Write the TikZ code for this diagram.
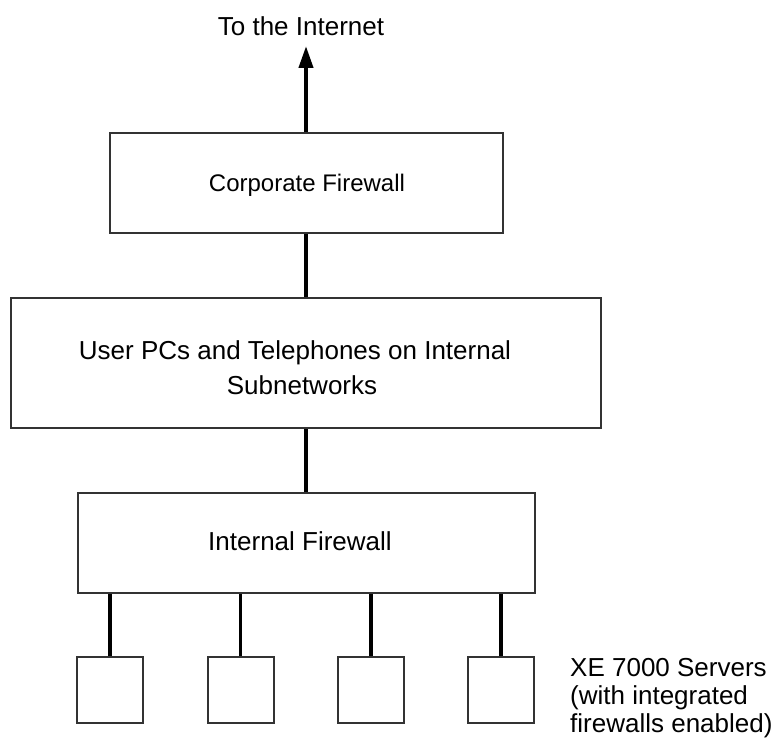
\documentclass[tikz,border=0pt]{standalone}
\usepackage{fontspec}
\setmainfont{Liberation Sans}
\usetikzlibrary{arrows.meta}
\begin{document}
\begin{tikzpicture}[x=1pt,y=-1pt,
  box/.style={draw=black!80,line width=2pt,inner sep=0pt},
  server/.style={draw=black!80,line width=2pt,inner sep=0pt,minimum width=66pt,minimum height=66pt},
  link/.style={line width=4pt},
  slink/.style={line width=3.3pt},
  txt/.style={inner sep=0pt,align=center,font=\fontsize{26}{36}\selectfont},
  lbl/.style={inner sep=0pt,font=\fontsize{26}{28}\selectfont}]
\useasboundingbox (0,0) rectangle (781,751);
\node[box,minimum width=393pt,minimum height=100pt] (corp) at (306,183) {};
\node[box,minimum width=590pt,minimum height=130pt] (user) at (306,363) {};
\node[box,minimum width=457pt,minimum height=100pt] (int) at (306,543) {};
\node[txt,font=\fontsize{24}{28}\selectfont,anchor=base] (corpt) at (307,192) {Corporate Firewall};
\node[txt,anchor=base] (usert1) at (295,359) {User PCs and Telephones on Internal};
\node[txt,anchor=base] (usert2) at (302,394) {Subnetworks};
\node[txt,anchor=base] (intt) at (300,550) {Internal Firewall};
\node[server] (s1) at (110,690) {};
\node[server] (s2) at (240.5,690) {};
\node[server] (s3) at (371,690) {};
\node[server] (s4) at (501,690) {};
\node[lbl,anchor=base] (net) at (301,36) {To the Internet};
\coordinate (tip) at (306,46);
\node[lbl,anchor=north west,align=left] (srv) at (570,658) {XE 7000 Servers\\(with integrated\\firewalls enabled)};
\draw[link,-{Triangle[length=22pt,width=14pt]}] (corp.north) -- (tip);
\draw[link] (corp.south) -- (user.north);
\draw[link] (user.south) -- (int.north);
\foreach \s in {s1,s2,s3,s4}{
  \draw[slink] (\s.north) -- (\s.north |- int.south);
}
\end{tikzpicture}
\end{document}
